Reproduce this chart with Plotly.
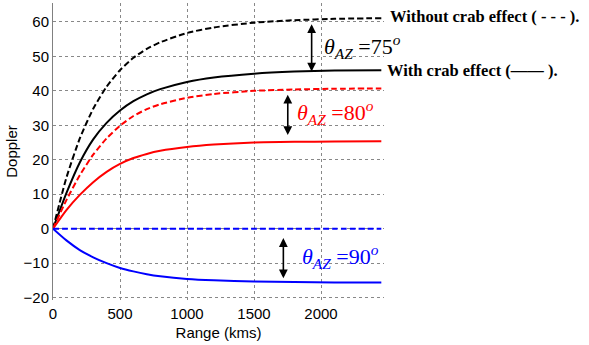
import plotly.graph_objects as go

# Range samples (kms)
range_kms = [0, 100, 200, 300, 400, 500, 600, 700, 800, 1000, 1200, 1500, 1800, 2100, 2450]

# Doppler curves, theta_AZ = 75 deg
d75_no_crab = [0, 14.8, 26.2, 34.8, 41.2, 46.0, 49.6, 52.2, 54.1, 56.8, 58.4, 59.8, 60.5, 60.9, 61.1]
d75_crab = [0, 10.3, 19.2, 25.9, 30.7, 34.3, 37.0, 39.0, 40.5, 42.6, 43.9, 45.0, 45.6, 45.9, 46.0]

# theta_AZ = 80 deg
d80_no_crab = [0, 8.3, 15.5, 21.5, 26.2, 29.9, 32.7, 34.7, 36.1, 38.0, 39.1, 40.0, 40.4, 40.6, 40.7]
d80_crab = [0, 5.4, 9.8, 13.5, 16.5, 18.8, 20.5, 21.7, 22.6, 23.7, 24.4, 25.0, 25.2, 25.3, 25.4]

# theta_AZ = 90 deg
d90_no_crab = [0, 0, 0, 0, 0, 0, 0, 0, 0, 0, 0, 0, 0, 0, 0]
d90_crab = [0, -3.4, -6.2, -8.3, -10.0, -11.4, -12.4, -13.2, -13.8, -14.6, -15.0, -15.3, -15.5, -15.6, -15.6]

x_ticks = [0, 500, 1000, 1500, 2000]
y_ticks = [-20, -10, 0, 10, 20, 30, 40, 50, 60]

DASH = "6px,3px"
SERIF = "Liberation Serif, Times New Roman, serif"
SANS = "Liberation Sans, Arial, sans-serif"

fig = go.Figure()

series = [
    (d75_no_crab, "black", DASH),
    (d75_crab, "black", "solid"),
    (d80_no_crab, "red", DASH),
    (d80_crab, "red", "solid"),
    (d90_no_crab, "blue", DASH),
    (d90_crab, "blue", "solid"),
]
for ys, color, dash in series:
    fig.add_trace(go.Scatter(
        x=range_kms, y=ys, mode="lines",
        line=dict(color=color, width=2, dash=dash, shape="spline", smoothing=0.6),
        showlegend=False, hoverinfo="skip",
    ))

annotations = []

# Double-headed arrows between the paired curves
for x_pos, y_tip, y_tail in [(1930, 45.6, 59.8), (1752, 27.2, 39.3), (1719, -14.4, -2.3)]:
    annotations.append(dict(
        x=x_pos, y=y_tip, ax=x_pos, ay=y_tail, xref="x", yref="y", axref="x", ayref="y",
        text="", showarrow=True, arrowhead=2, startarrowhead=2, arrowside="end+start",
        arrowsize=1.1, startarrowsize=1.1, arrowwidth=1.6, arrowcolor="black",
    ))

# Angle labels
angle_labels = [
    (2010, 52.8, "75", "black"),
    (1806, 33.6, "80", "red"),
    (1843, -8.2, "90", "blue"),
]
for x_pos, y_pos, deg, color in angle_labels:
    annotations.append(dict(
        x=x_pos, y=y_pos, xref="x", yref="y", xanchor="left", yanchor="middle",
        text=f"<i>θ</i><sub><i>AZ</i></sub> ={deg}<sup><i>o</i></sup>",
        showarrow=False, font=dict(family=SERIF, size=22, color=color),
    ))

# Line style notes, placed to the right of the plotting area
annotations.append(dict(
    x=1.012, y=61.6, xref="paper", yref="y", xanchor="left", yanchor="middle",
    text="<b>Without crab effect ( - - - ).</b>", showarrow=False,
    font=dict(family=SERIF, size=16.5, color="black"),
))
annotations.append(dict(
    x=1.004, y=46.0, xref="paper", yref="y", xanchor="left", yanchor="middle",
    text="<b>With crab effect (—— ).</b>", showarrow=False,
    font=dict(family=SERIF, size=16.5, color="black"),
))

fig.update_layout(
    width=589, height=345,
    margin=dict(l=53, r=205, t=3, b=45),
    paper_bgcolor="white", plot_bgcolor="white",
    annotations=annotations,
    font=dict(family=SANS, size=15, color="black"),
)
fig.update_xaxes(
    range=[0, 2470], tickvals=x_ticks, showgrid=True, gridcolor="#888888", griddash="dot",
    gridwidth=1, zeroline=False, showline=False, ticks="", ticklabelstandoff=3,
    title=dict(text="Range (kms)", font=dict(size=15), standoff=6),
)
fig.update_yaxes(
    range=[-20.7, 65.5], tickvals=y_ticks, showgrid=True, gridcolor="#888888", griddash="dot",
    gridwidth=1, zeroline=False, showline=True, linecolor="#808080", linewidth=1, ticks="",
    title=dict(text="Doppler", font=dict(size=15), standoff=2),
)

fig.write_html("out.html")
